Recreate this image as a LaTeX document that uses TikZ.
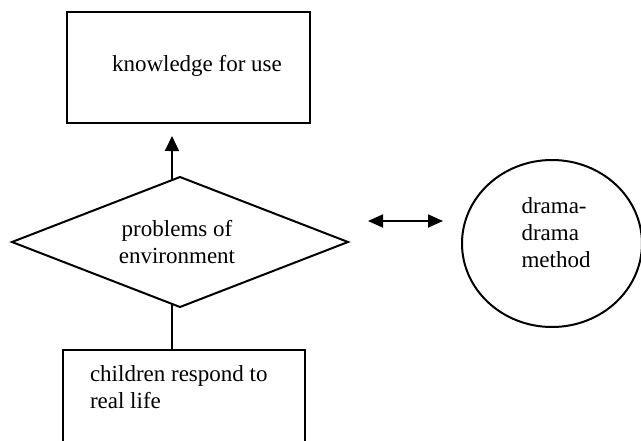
\documentclass[tikz,border=0pt]{standalone}
\usepackage{fontspec}
\setmainfont{Liberation Serif}
\usetikzlibrary{shapes.geometric,arrows.meta,calc}

\begin{document}
\begin{tikzpicture}[x=1pt,y=-1pt,
  outline/.style={draw=black,line width=2pt,inner sep=0pt,outer sep=0pt},
  boxshape/.style={outline,rectangle},
  label text/.style={inner sep=0pt,outer sep=0pt,anchor=base west,align=left,
    font=\fontsize{23}{27}\selectfont},
  conn/.style={line width=1.8pt},
  arr/.style={conn,-{Triangle[length=15pt,width=14pt]}},
  dblarr/.style={conn,{Triangle[length=15pt,width=13pt]}-{Triangle[length=15pt,width=13pt]}}]

  % page frame
  \clip (0,0) rectangle (641,440);
  \fill[white] (0,0) rectangle (641,440);

  % shapes
  \node[boxshape,minimum width=243pt,minimum height=111pt] (know) at (188.5,67.5) {};
  \node[outline,diamond,minimum width=336pt,minimum height=130pt] (probs) at (180,242) {};
  \node[outline,ellipse,minimum width=180pt,minimum height=167pt] (drama) at (552,243.5) {};
  \node[boxshape,minimum width=242pt,minimum height=110pt] (kids) at (184,405) {};

  % texts (multi-line nodes are placed by the baseline of their last line)
  \node[label text] (knowT) at (112,71.5) {knowledge for use};
  \node[label text,align=center,anchor=base] (probsT) at (177,263) {problems of\\environment};
  \node[label text] (dramaT) at (521.5,267) {drama-\\drama\\method};
  \node[label text] (kidsT) at (90,408) {children respond to\\real life};

  % connectors
  \draw[arr] ($(probs.west)!0.952!(probs.north)$) -- ($(know.south)+(-16.5,13)$);
  \draw[conn] ($(probs.west)!0.952!(probs.south)$) -- ($(kids.north)+(-12,0)$);
  \draw[dblarr] ($(probs.east)+(20,-21)$) -- ($(drama.west)+(-19,-22.5)$);
\end{tikzpicture}
\end{document}
